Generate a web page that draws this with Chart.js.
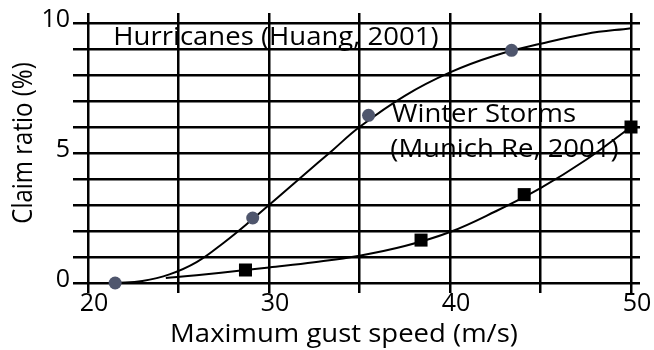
<!DOCTYPE html>
<html>
<head>
<meta charset="utf-8">
<script src="https://cdn.jsdelivr.net/npm/chart.js@4"></script>
<style>
  html, body { margin: 0; padding: 0; background: #fff; }
  #wrap { width: 654px; height: 350px; }
</style>
</head>
<body>
<div id="wrap"><canvas id="claims"></canvas></div>
<script>
// Observed points
const hurricaneX = [21.5, 29.1, 35.5, 43.4];
const hurricaneY = [0, 2.5, 6.45, 8.95];
const stormX = [28.7, 38.4, 44.1, 50];
const stormY = [0.5, 1.65, 3.4, 6.0];

// Fitted curves
const hurricaneFitX = [21.5, 23, 24.5, 26, 27.5, 29, 30.5, 32, 33.5, 35, 37.5, 40, 42.5, 45, 47.5, 50];
const hurricaneFitY = [0, 0.08, 0.33, 0.8, 1.55, 2.4, 3.3, 4.2, 5.1, 6.0, 7.2, 8.1, 8.75, 9.2, 9.58, 9.8];
const stormFitX = [24.3, 26, 28.7, 30, 32.5, 35, 37.5, 40, 42.5, 45, 47.5, 50];
const stormFitY = [0.19, 0.3, 0.5, 0.6, 0.8, 1.05, 1.42, 1.96, 2.75, 3.65, 4.73, 6.0];

// Tick labels that are shown
const xLabels = [20, 30, 40, 50];
const yLabels = [0, 5, 10];

// In-plot notes (anchored in data units)
const noteTexts = ["Hurricanes (Huang, 2001)", "Winter Storms", "(Munich Re, 2001)"];
const noteX = [21.4, 36.8, 36.7];
const noteY = [9.15, 6.2, 4.85];

const xTitle = "Maximum gust speed (m/s)";
const yTitle = "Claim ratio (%)";

const FONT = "'Open Sans', 'Noto Sans', sans-serif";

function toPoints(xs, ys) {
    return xs.map((x, i) => ({ x: x, y: ys[i] }));
}

// Draws the notes and axis titles (text is a little wider than the font)
const textPlugin = {
    id: 'textPlugin',
    afterDraw(chart) {
        const ctx = chart.ctx;
        const xs = chart.scales.x, ys = chart.scales.y;
        ctx.save();
        ctx.fillStyle = '#000';
        ctx.textBaseline = 'alphabetic';
        ctx.font = "25px " + FONT;
        ctx.textAlign = 'left';
        noteTexts.forEach((t, i) => {
            ctx.save();
            ctx.translate(xs.getPixelForValue(noteX[i]), ys.getPixelForValue(noteY[i]));
            ctx.scale(1.1, 1);
            ctx.fillText(t, 0, 0);
            ctx.restore();
        });

        // x title
        ctx.save();
        ctx.textAlign = 'center';
        ctx.translate(344, 342);
        ctx.scale(1.1, 1);
        ctx.fillText(xTitle, 0, 0);
        ctx.restore();

        // y title
        ctx.save();
        ctx.font = "24px " + FONT;
        ctx.textAlign = 'center';
        ctx.translate(32, 143);
        ctx.scale(1.12, 1);
        ctx.rotate(-Math.PI / 2);
        ctx.fillText(yTitle, 0, 0);
        ctx.restore();
        ctx.restore();
    }
};

const gridStyle = { color: '#000', lineWidth: 2.5 };

const ctx = document.getElementById('claims').getContext('2d');
const chart = new Chart(ctx, {
    type: 'scatter',
    data: {
        datasets: [
            {
                label: 'Hurricanes',
                data: toPoints(hurricaneX, hurricaneY),
                showLine: false,
                pointStyle: 'circle',
                pointRadius: 6.5,
                pointBackgroundColor: '#4f566d',
                pointBorderWidth: 0,
                clip: false
            },
            {
                label: 'Winter Storms',
                data: toPoints(stormX, stormY),
                showLine: false,
                pointStyle: 'rect',
                pointRadius: 9.2,
                pointBackgroundColor: '#000',
                pointBorderWidth: 0,
                clip: false
            },
            {
                label: 'Hurricanes fit',
                data: toPoints(hurricaneFitX, hurricaneFitY),
                showLine: true,
                borderColor: '#000',
                borderWidth: 2,
                pointRadius: 0,
                tension: 0.4,
                clip: false
            },
            {
                label: 'Winter Storms fit',
                data: toPoints(stormFitX, stormFitY),
                showLine: true,
                borderColor: '#000',
                borderWidth: 2,
                pointRadius: 0,
                tension: 0.4,
                clip: false
            }
        ]
    },
    options: {
        responsive: true,
        maintainAspectRatio: false,
        animation: false,
        layout: { padding: 0 },
        plugins: {
            legend: { display: false },
            tooltip: { enabled: false }
        },
        scales: {
            x: {
                type: 'linear',
                position: 'bottom',
                min: 20,
                max: 50,
                afterFit(scale) { scale.height = 67; },
                grid: Object.assign({ tickLength: 10 }, gridStyle),
                border: { display: false },
                ticks: {
                    stepSize: 5,
                    autoSkip: false,
                    maxRotation: 0,
                    padding: -4,
                    labelOffset: 6,
                    color: '#000',
                    font: { family: FONT, size: 25 },
                    callback: v => xLabels.includes(v) ? String(v) : ''
                }
            },
            x2: {
                type: 'linear',
                position: 'top',
                min: 20,
                max: 50,
                afterFit(scale) { scale.height = 23; },
                grid: Object.assign({ tickLength: 10, drawOnChartArea: false }, gridStyle),
                border: { display: false },
                ticks: { stepSize: 5, display: false, autoSkip: false }
            },
            y: {
                type: 'linear',
                position: 'left',
                min: 0,
                max: 10,
                afterFit(scale) { scale.width = 88; },
                grid: Object.assign({ tickLength: 15 }, gridStyle),
                border: { display: false },
                ticks: {
                    stepSize: 1,
                    autoSkip: false,
                    padding: 3,
                    labelOffset: -3,
                    color: '#000',
                    font: { family: FONT, size: 25 },
                    callback: v => yLabels.includes(v) ? String(v) : ''
                }
            },
            y2: {
                type: 'linear',
                position: 'right',
                min: 0,
                max: 10,
                afterFit(scale) { scale.width = 23; },
                grid: Object.assign({ tickLength: 9, drawOnChartArea: false }, gridStyle),
                border: { display: false },
                ticks: { stepSize: 1, display: false, autoSkip: false }
            }
        }
    },
    plugins: [textPlugin]
});
</script>
</body>
</html>
